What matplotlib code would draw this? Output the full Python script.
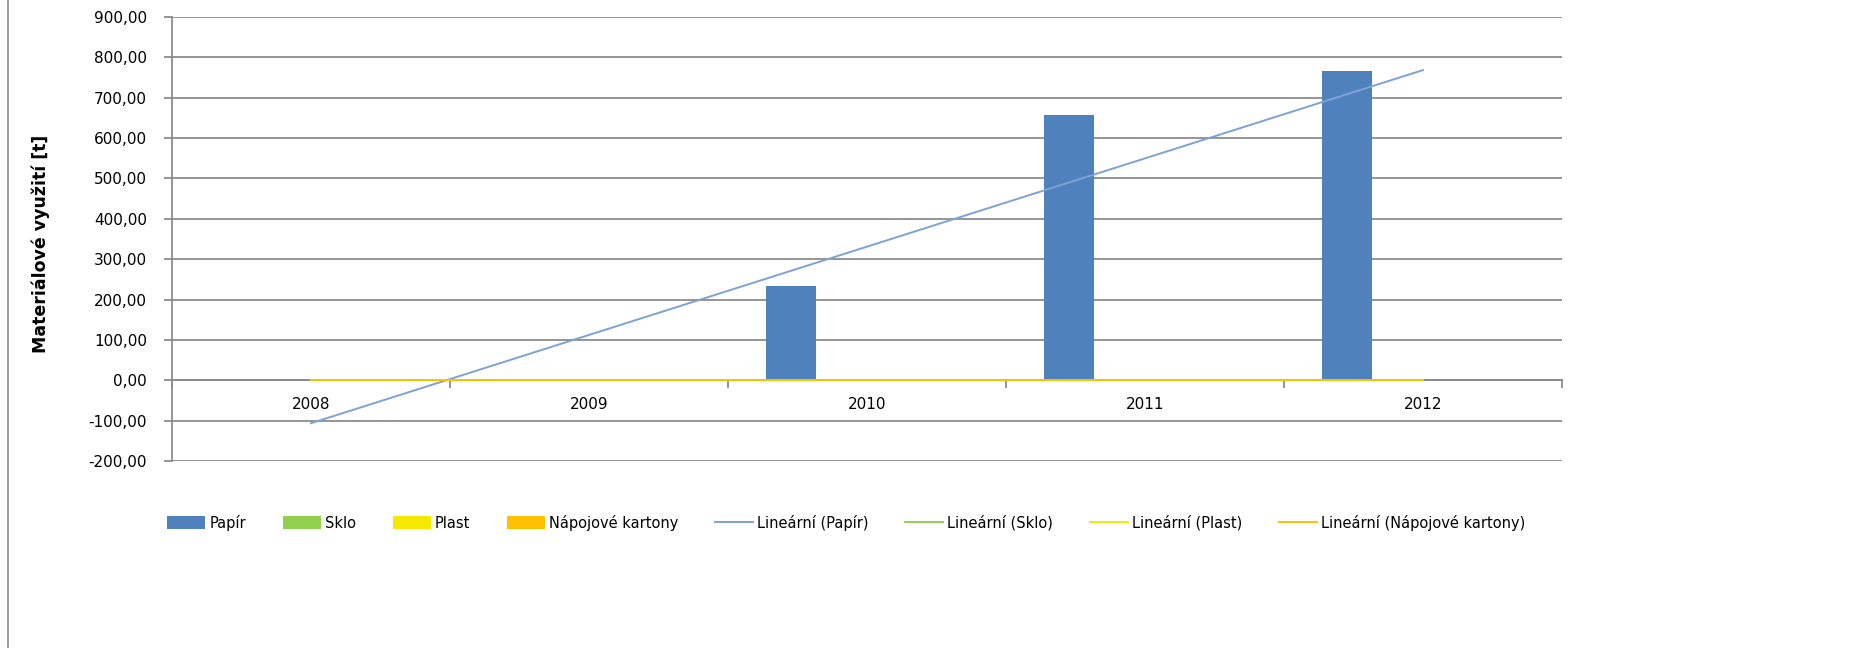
import numpy as np
import matplotlib.pyplot as plt
from matplotlib.lines import Line2D
from matplotlib.patches import Patch
from matplotlib.ticker import FuncFormatter

# Data
years = ['2008', '2009', '2010', '2011', '2012']
papir = [0.0, 0.0, 233.0, 657.0, 765.0]
sklo = [0.0, 0.0, 0.0, 0.0, 0.0]
plast = [0.0, 0.0, 0.0, 0.0, 0.0]
kartony = [0.0, 0.0, 0.0, 0.0, 0.0]
series_names = ['Papír', 'Sklo', 'Plast', 'Nápojové kartony']
bar_colors = ['#4F81BD', '#92D050', '#F5E900', '#FFC000']
trend_colors = ['#7FA1D3', '#92D050', '#F5E900', '#FFC000']

plt.rcParams['font.family'] = ['DejaVu Sans']
grid_c = '#8C8C8C'

fig = plt.figure(figsize=(18.52, 6.48), dpi=100)
ax = fig.add_axes([0.0929, 0.2886, 0.7505, 0.6852])

x = np.arange(len(years))
w = 1 / 5.5
all_series = [papir, sklo, plast, kartony]
for i, vals in enumerate(all_series):
    off = -0.5 + 0.75 / 5.5 + (i + 0.5) * w
    ax.bar(x + off, vals, width=w, color=bar_colors[i], zorder=3)

# linear trend lines
for i, vals in enumerate(all_series):
    k, q = np.polyfit(x, vals, 1)
    ax.plot(x, k * x + q, color=trend_colors[i], lw=1.4, zorder=4)

ax.set_xlim(-0.5, len(years) - 0.5)
ax.set_ylim(-200, 900)
ax.set_yticks(np.arange(-200, 901, 100))
ax.yaxis.set_major_formatter(FuncFormatter(lambda v, p: f'{v:.2f}'.replace('.', ',')))
ax.yaxis.grid(True, color=grid_c, lw=1.3, zorder=0)
ax.set_axisbelow(True)

ax.spines['top'].set_visible(False)
ax.spines['right'].set_visible(False)
ax.spines['left'].set_color(grid_c)
ax.spines['left'].set_linewidth(1.3)
ax.spines['bottom'].set_position(('data', 0))
ax.spines['bottom'].set_color(grid_c)
ax.spines['bottom'].set_linewidth(1.3)

ax.set_xticks(x)
ax.set_xticklabels(years)
ax.set_xticks(np.arange(-0.5, len(years), 1), minor=True)
ax.tick_params(axis='x', which='major', length=0, pad=12, labelsize=11)
ax.tick_params(axis='x', which='minor', length=6, color=grid_c, width=1.3)
ax.tick_params(axis='y', length=6, color=grid_c, width=1.3, pad=12, labelsize=11)

ax.set_ylabel('Materiálové využití [t]', fontsize=12.5, fontweight='bold')
ax.yaxis.set_label_coords(-0.088, 0.49)

# chart area left border
fig.add_artist(Line2D([0.0045, 0.0045], [0, 1], color='#8C8C8C', lw=1.2))

handles = [Patch(facecolor=c, edgecolor='none') for c in bar_colors]
handles += [Line2D([0], [0], color=c, lw=1.4) for c in trend_colors]
labels = series_names + ['Lineární (' + n + ')' for n in series_names]
fig.legend(handles, labels, loc='center', bbox_to_anchor=(0.457, 0.193), ncol=8,
           frameon=False, fontsize=10.5, handlelength=2.6, handleheight=1.0,
           handletextpad=0.3, columnspacing=2.5)

fig.savefig('out.png', dpi=100)
